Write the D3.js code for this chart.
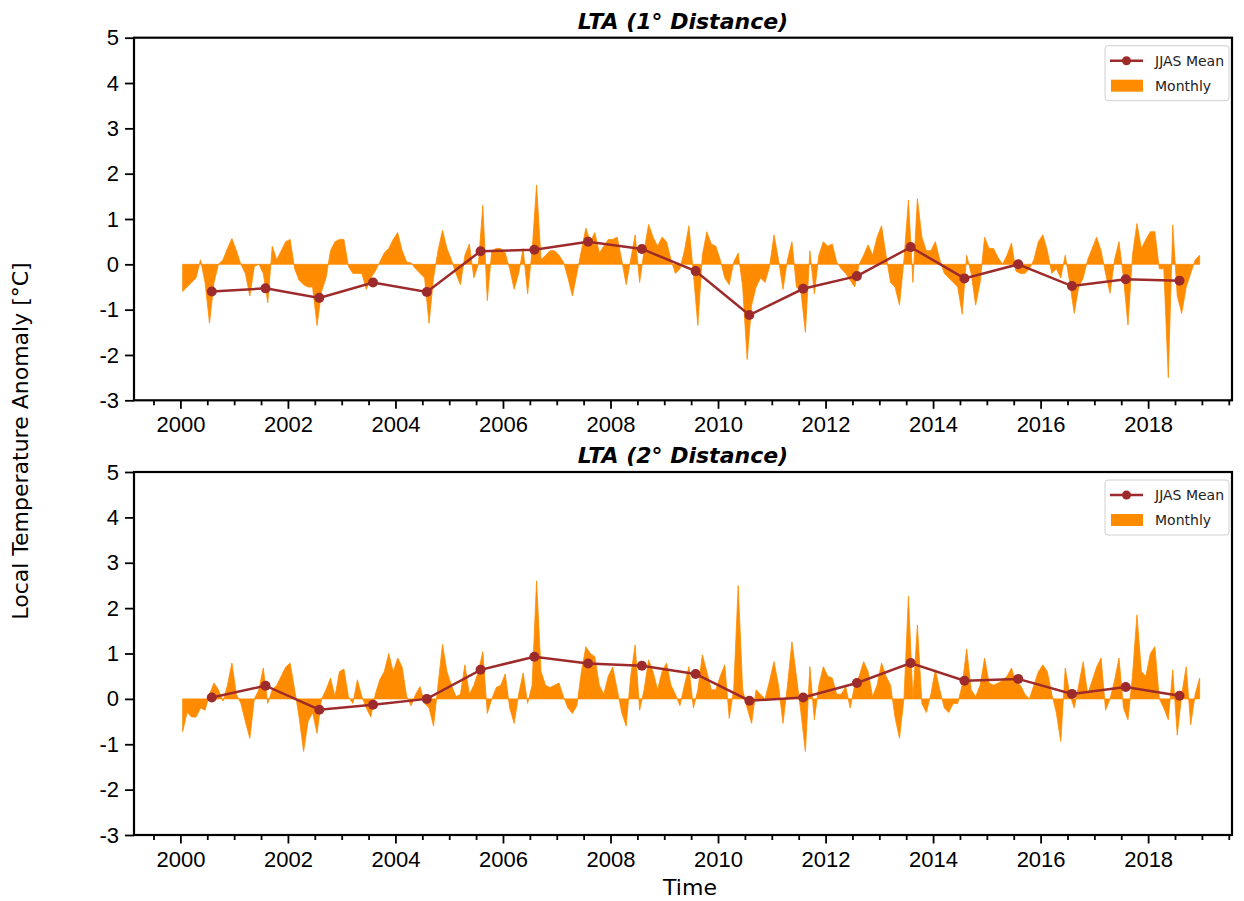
<!DOCTYPE html>
<html>
<head>
<meta charset="utf-8">
<script src="https://cdn.jsdelivr.net/npm/d3@7"></script>
<style>
  body { margin: 0; background: #fff; }
  svg { display: block; font-family: "DejaVu Sans", sans-serif; }
</style>
</head>
<body>
<svg id="chart"></svg>
<script>
// Chart data: monthly anomalies Jan 2000 .. Dec 2018, one row per year
const startYear = 2000;
const monthly1 = [
  -0.6, -0.5, -0.4, -0.3, 0.1, -0.4, -1.3, -0.4, 0.0, 0.1, 0.35, 0.57,
  0.3, 0.0, -0.2, -0.7, -0.05, 0.0, -0.2, -0.85, 0.4, 0.1, 0.3, 0.5,
  0.55, -0.1, -0.35, -0.45, -0.5, -0.5, -1.35, -0.6, -0.3, 0.3, 0.5, 0.55,
  0.55, -0.05, -0.2, -0.2, -0.2, -0.55, -0.3, -0.15, 0.05, 0.25, 0.35, 0.55,
  0.7, 0.3, 0.05, 0.03, -0.1, -0.2, -0.3, -1.3, -0.3, 0.3, 0.75, 0.35,
  0.1, -0.2, -0.45, 0.2, 0.45, -0.3, 0.0, 1.3, -0.8, 0.3, 0.35, 0.35,
  0.25, -0.1, -0.55, -0.2, 0.35, -0.65, 0.3, 1.75, 0.1, 0.2, 0.3, 0.3,
  0.2, 0.05, -0.3, -0.7, -0.2, 0.3, 0.8, 0.5, 0.7, 0.25, 0.4, 0.55,
  0.55, 0.6, 0.1, -0.45, 0.1, 0.65, -0.4, 0.3, 0.88, 0.6, 0.4, 0.6,
  0.5, 0.1, -0.2, -0.1, 0.3, 0.85, -0.2, -1.35, 0.2, 0.72, 0.45, 0.4,
  0.1, -0.3, -0.45, 0.05, 0.25, -0.5, -2.1, -0.9, -0.5, -0.3, -0.4, -0.05,
  0.65, 0.1, -0.55, 0.1, 0.5, -0.5, -0.6, -1.5, 0.3, -0.65, 0.2, 0.5,
  0.4, 0.45, 0.05, -0.1, -0.2, -0.35, -0.5, 0.0, 0.2, 0.43, 0.2, 0.6,
  0.85, 0.2, -0.4, -0.5, -0.9, 0.1, 1.42, -0.4, 1.45, 0.6, 0.3, 0.3,
  0.5, 0.1, -0.2, -0.3, -0.4, -0.5, -1.1, 0.2, -0.2, -0.9, -0.4, 0.6,
  0.35, 0.35, 0.15, 0.0, 0.2, 0.47, -0.15, -0.2, -0.2, -0.1, 0.1, 0.5,
  0.65, 0.3, -0.2, -0.1, -0.3, 0.2, -0.4, -1.08, -0.5, -0.3, 0.1, 0.35,
  0.6, 0.3, -0.2, -0.64, 0.1, 0.5, -0.3, -1.34, 0.2, 0.9, 0.35, 0.55,
  0.72, 0.72, -0.1, -0.1, -2.5, 0.87, -0.7, -1.08, -0.5, -0.2, 0.1, 0.2
];
const monthly2 = [
  -0.72, -0.3, -0.4, -0.4, -0.2, -0.25, 0.1, 0.35, 0.2, -0.05, 0.3, 0.79,
  0.1, -0.1, -0.5, -0.87, 0.0, 0.2, 0.68, -0.1, 0.2, 0.3, 0.5, 0.7,
  0.79, 0.2, -0.4, -1.16, -0.5, -0.3, -0.76, 0.0, 0.2, 0.46, 0.05, 0.6,
  0.66, 0.05, -0.1, 0.42, 0.05, -0.2, -0.4, 0.1, 0.42, 0.6, 1.0, 0.6,
  0.9, 0.7, 0.05, -0.15, 0.1, 0.27, -0.1, -0.2, -0.6, 0.3, 1.2, 0.6,
  0.3, 0.05, 0.1, 0.75, 0.1, 0.3, 0.6, 1.04, -0.32, 0.0, 0.25, 0.3,
  0.55, -0.2, -0.54, 0.1, 0.57, -0.1, 0.3, 2.6, 0.6, 0.3, 0.25, 0.3,
  0.35, 0.05, -0.2, -0.32, -0.15, 0.6, 1.15, 1.0, 0.93, 0.3, 0.1, 0.5,
  0.7, 0.2, -0.3, -0.6, 0.5, 1.19, -0.25, 0.2, 0.86, 0.6, 0.2, 0.6,
  0.79, 0.3, 0.1, -0.15, 0.3, 0.71, -0.2, 0.2, 0.97, 0.6, 0.2, 0.2,
  0.5, 0.75, -0.43, 0.2, 2.5, 0.2, -0.2, -0.54, 0.2, 0.1, 0.0, 0.4,
  0.82, 0.3, -0.54, 0.3, 1.26, 0.5, -0.3, -1.16, 0.71, -0.46, 0.3, 0.71,
  0.5, 0.46, 0.1, 0.1, 0.27, -0.2, 0.3, 0.5, 0.82, 0.6, 0.05, 0.3,
  0.79, 0.5, 0.3, -0.4, -0.87, 0.0, 2.26, 0.0, 1.63, -0.1, -0.3, 0.1,
  0.64, 0.2, -0.2, -0.3, -0.1, -0.1, 0.3, 1.1, 0.2, 0.05, 0.3, 0.9,
  0.35, 0.3, 0.35, 0.4, 0.5, 0.68, 0.35, 0.3, 0.1, 0.0, 0.3, 0.6,
  0.75, 0.6, 0.1, -0.3, -0.94, 0.68, 0.1, -0.2, 0.3, 0.82, 0.1, 0.4,
  0.7, 0.9, -0.25, 0.0, 0.4, 0.9, -0.2, -0.46, 0.5, 1.85, 0.6, 0.5,
  1.0, 1.15, 0.0, -0.2, -0.46, 0.64, -0.8, 0.1, 0.71, -0.57, 0.1, 0.46
];

// JJAS seasonal means, plotted at the middle of the season
const jjasYears = [2000, 2001, 2002, 2003, 2004, 2005, 2006, 2007, 2008, 2009,
                   2010, 2011, 2012, 2013, 2014, 2015, 2016, 2017, 2018];
const jjas1 = [-0.60, -0.53, -0.74, -0.40, -0.61, 0.29, 0.32, 0.50, 0.34, -0.15,
               -1.12, -0.54, -0.26, 0.38, -0.31, 0.0, -0.48, -0.33, -0.36];
const jjas2 = [0.03, 0.29, -0.24, -0.13, 0.0, 0.64, 0.93, 0.78, 0.73, 0.55,
               -0.04, 0.03, 0.35, 0.79, 0.40, 0.44, 0.11, 0.26, 0.07];

const panelTitles = ["LTA (1\u00b0 Distance)", "LTA (2\u00b0 Distance)"];
const yTicks = [-3, -2, -1, 0, 1, 2, 3, 4, 5];
const xMajor = [2000, 2002, 2004, 2006, 2008, 2010, 2012, 2014, 2016, 2018];

const width = 1244;
const height = 901;
const fillColor = "#ff8c00";
const lineColor = "#9e2b2b";

const svg = d3.select("#chart")
    .attr("width", width)
    .attr("height", height);

// shared x scale (decimal years)
const x = d3.scaleLinear()
    .domain([1999.137, 2019.56])
    .range([134, 1232]);

const xMinor = d3.range(1999.5, 2019.6, 0.5).filter(v => v % 2 !== 0);

const panels = [
    { title: panelTitles[0], monthly: monthly1, jjas: jjas1, top: 37.7, bottom: 400.3 },
    { title: panelTitles[1], monthly: monthly2, jjas: jjas2, top: 472, bottom: 835 }
];

panels.forEach(p => {
    const y = d3.scaleLinear().domain([-3, 5]).range([p.bottom, p.top]);
    const g = svg.append("g");

    const monthlyData = p.monthly.map((v, i) => ({
        t: startYear + Math.floor(i / 12) + ((i % 12) + 0.5) / 12,
        v: v
    }));
    const jjasData = jjasYears.map((yr, i) => ({ t: yr + 7 / 12, v: p.jjas[i] }));

    // monthly anomalies as a filled area around zero
    const area = d3.area()
        .x(d => x(d.t))
        .y0(y(0))
        .y1(d => y(d.v));
    g.append("path")
        .datum(monthlyData)
        .attr("d", area)
        .attr("fill", fillColor)
        .attr("stroke", fillColor)
        .attr("stroke-width", 0.8);

    // JJAS mean line + markers
    const line = d3.line().x(d => x(d.t)).y(d => y(d.v));
    g.append("path")
        .datum(jjasData)
        .attr("d", line)
        .attr("fill", "none")
        .attr("stroke", lineColor)
        .attr("stroke-width", 2.5);
    g.selectAll(".dot")
        .data(jjasData)
        .enter().append("circle")
        .attr("cx", d => x(d.t))
        .attr("cy", d => y(d.v))
        .attr("r", 5)
        .attr("fill", lineColor);

    // axes
    const xAxis = g.append("g")
        .attr("transform", `translate(0,${p.bottom})`)
        .call(d3.axisBottom(x).tickValues(xMajor).tickFormat(d => String(d))
            .tickSize(8.5).tickPadding(8).tickSizeOuter(0));
    g.append("g")
        .attr("transform", `translate(0,${p.bottom})`)
        .call(d3.axisBottom(x).tickValues(xMinor).tickFormat("").tickSize(5).tickSizeOuter(0))
        .call(a => a.select(".domain").remove());
    const yAxis = g.append("g")
        .attr("transform", `translate(${x.range()[0]},0)`)
        .call(d3.axisLeft(y).tickValues(yTicks).tickFormat(d => String(d))
            .tickSize(9).tickPadding(6).tickSizeOuter(0));

    [xAxis, yAxis].forEach(a => {
        a.selectAll("text").style("font-size", "22px").attr("fill", "#000");
        a.select(".domain").remove();
    });
    g.selectAll(".tick line").attr("stroke", "#000").attr("stroke-width", 1.8);

    // frame
    g.append("rect")
        .attr("x", x.range()[0])
        .attr("y", p.top)
        .attr("width", x.range()[1] - x.range()[0])
        .attr("height", p.bottom - p.top)
        .attr("fill", "none")
        .attr("stroke", "#000")
        .attr("stroke-width", 2.2);

    // title
    g.append("text")
        .attr("x", (x.range()[0] + x.range()[1]) / 2)
        .attr("y", p.top - 9)
        .attr("text-anchor", "middle")
        .style("font-size", "22px")
        .style("font-weight", "bold")
        .style("font-style", "italic")
        .text(p.title);

    // legend
    const lg = g.append("g").attr("transform", `translate(1105,${p.top + 8})`);
    lg.append("rect")
        .attr("width", 124).attr("height", 55)
        .attr("rx", 3)
        .attr("fill", "#fff")
        .attr("stroke", "#d0d0d0");
    lg.append("line")
        .attr("x1", 5).attr("x2", 38).attr("y1", 15).attr("y2", 15)
        .attr("stroke", lineColor).attr("stroke-width", 2.5);
    lg.append("circle").attr("cx", 21.5).attr("cy", 15).attr("r", 4.5).attr("fill", lineColor);
    lg.append("rect")
        .attr("x", 6).attr("y", 34).attr("width", 32).attr("height", 12)
        .attr("fill", fillColor);
    lg.append("text").attr("x", 50).attr("y", 20).style("font-size", "14px").attr("fill", "#222").text("JJAS Mean");
    lg.append("text").attr("x", 50).attr("y", 45).style("font-size", "14px").attr("fill", "#222").text("Monthly");
});

// shared labels
svg.append("text")
    .attr("transform", `translate(28,441) rotate(-90)`)
    .attr("text-anchor", "middle")
    .style("font-size", "22px")
    .attr("fill", "#000")
    .text("Local Temperature Anomaly [\u00b0C]");

svg.append("text")
    .attr("x", 690)
    .attr("y", 895)
    .attr("text-anchor", "middle")
    .style("font-size", "22px")
    .attr("fill", "#000")
    .text("Time");
</script>
</body>
</html>
